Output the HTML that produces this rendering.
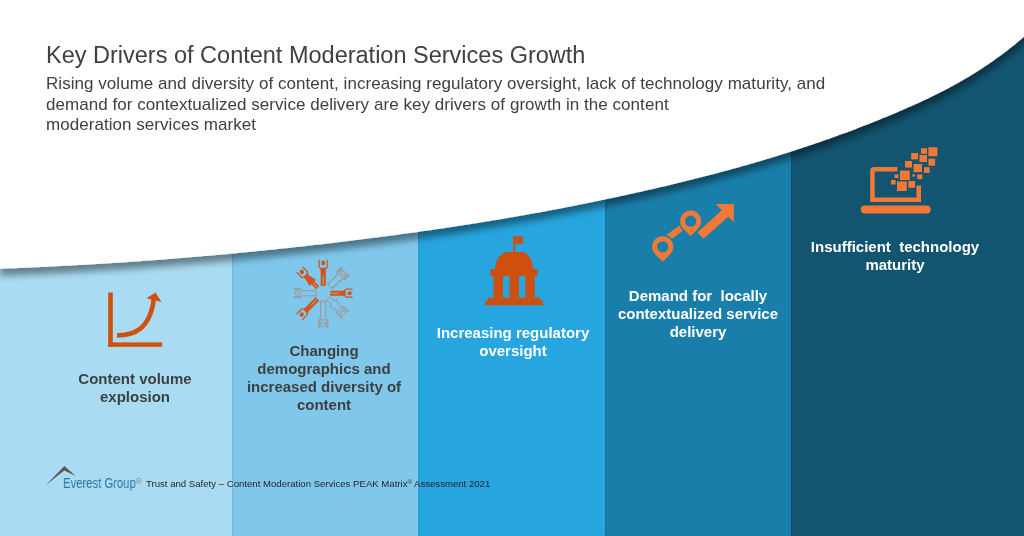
<!DOCTYPE html>
<html><head><meta charset="utf-8">
<style>
*{margin:0;padding:0;box-sizing:border-box}
html,body{width:1024px;height:536px;overflow:hidden;background:#fff}
body{position:relative;font-family:"Liberation Sans",sans-serif}
.col{position:absolute;top:0;height:536px}
.sh{box-shadow:inset 1.2px 0 1px rgba(0,0,0,0.07)}
.t{position:absolute;white-space:nowrap;will-change:transform}
.title{left:46px;top:42px;font-size:23.5px;color:#404040}
.sub{left:45.5px;top:74px;font-size:17px;line-height:20.6px;color:#404040;letter-spacing:0.045px}
.lbl{position:absolute;will-change:transform;font-weight:bold;font-size:15px;line-height:18px;text-align:center;white-space:nowrap}
.dark{color:#3f3f3f}
.wh{color:#fff}
svg{position:absolute;left:0;top:0}
</style></head><body>
<div class="col" style="left:0;width:232px;background:#A9DBF2"></div>
<div class="col sh" style="left:232px;width:186px;background:#7FC7EB"></div>
<div class="col sh" style="left:418px;width:187px;background:#27A5DE"></div>
<div class="col sh" style="left:605px;width:186px;background:#1A7EAB"></div>
<div class="col sh" style="left:791px;width:233px;background:#135470"></div>
<svg width="1024" height="536" viewBox="0 0 1024 536">
<defs><filter id="sh" x="-5%" y="-5%" width="110%" height="120%"><feGaussianBlur in="SourceAlpha" stdDeviation="3.5"/><feOffset dy="6.5" result="b"/><feComponentTransfer><feFuncA type="linear" slope="0.42"/></feComponentTransfer><feMerge><feMergeNode/><feMergeNode in="SourceGraphic"/></feMerge></filter></defs>
<path filter="url(#sh)" fill="#fff" d="M0,-10 L0,268.75 L2,268.68 L4,268.60 L6,268.52 L8,268.45 L10,268.37 L12,268.29 L14,268.21 L16,268.13 L18,268.04 L20,267.96 L22,267.88 L24,267.79 L26,267.70 L28,267.62 L30,267.53 L32,267.44 L34,267.35 L36,267.26 L38,267.17 L40,267.07 L42,266.98 L44,266.88 L46,266.79 L48,266.69 L50,266.59 L52,266.49 L54,266.39 L56,266.29 L58,266.19 L60,266.09 L62,265.98 L64,265.88 L66,265.77 L68,265.66 L70,265.56 L72,265.45 L74,265.34 L76,265.23 L78,265.12 L80,265.00 L82,264.89 L84,264.77 L86,264.66 L88,264.54 L90,264.42 L92,264.30 L94,264.18 L96,264.06 L98,263.94 L100,263.82 L102,263.70 L104,263.57 L106,263.45 L108,263.32 L110,263.19 L112,263.06 L114,262.93 L116,262.80 L118,262.67 L120,262.54 L122,262.41 L124,262.27 L126,262.14 L128,262.00 L130,261.86 L132,261.72 L134,261.59 L136,261.44 L138,261.30 L140,261.16 L142,261.02 L144,260.87 L146,260.73 L148,260.58 L150,260.44 L152,260.29 L154,260.14 L156,259.99 L158,259.84 L160,259.69 L162,259.53 L164,259.38 L166,259.22 L168,259.07 L170,258.91 L172,258.75 L174,258.60 L176,258.44 L178,258.27 L180,258.11 L182,257.95 L184,257.79 L186,257.62 L188,257.46 L190,257.29 L192,257.12 L194,256.95 L196,256.78 L198,256.61 L200,256.44 L202,256.27 L204,256.10 L206,255.92 L208,255.75 L210,255.57 L212,255.39 L214,255.22 L216,255.04 L218,254.86 L220,254.68 L222,254.49 L224,254.31 L226,254.13 L228,253.94 L230,253.76 L232,253.57 L234,253.38 L236,253.19 L238,253.00 L240,252.81 L242,252.62 L244,252.43 L246,252.23 L248,252.04 L250,251.84 L252,251.65 L254,251.45 L256,251.25 L258,251.05 L260,250.85 L262,250.65 L264,250.45 L266,250.24 L268,250.04 L270,249.83 L272,249.63 L274,249.42 L276,249.21 L278,249.00 L280,248.79 L282,248.58 L284,248.37 L286,248.16 L288,247.94 L290,247.73 L292,247.51 L294,247.29 L296,247.08 L298,246.86 L300,246.64 L302,246.42 L304,246.19 L306,245.97 L308,245.75 L310,245.52 L312,245.30 L314,245.07 L316,244.84 L318,244.61 L320,244.38 L322,244.15 L324,243.92 L326,243.69 L328,243.45 L330,243.22 L332,242.98 L334,242.75 L336,242.51 L338,242.27 L340,242.03 L342,241.79 L344,241.55 L346,241.30 L348,241.06 L350,240.82 L352,240.57 L354,240.32 L356,240.08 L358,239.83 L360,239.58 L362,239.33 L364,239.07 L366,238.82 L368,238.57 L370,238.31 L372,238.06 L374,237.80 L376,237.54 L378,237.28 L380,237.02 L382,236.76 L384,236.50 L386,236.24 L388,235.97 L390,235.71 L392,235.44 L394,235.17 L396,234.91 L398,234.64 L400,234.37 L402,234.10 L404,233.82 L406,233.55 L408,233.27 L410,233.00 L412,232.72 L414,232.44 L416,232.16 L418,231.88 L420,231.60 L422,231.32 L424,231.04 L426,230.75 L428,230.46 L430,230.18 L432,229.89 L434,229.60 L436,229.31 L438,229.02 L440,228.72 L442,228.43 L444,228.13 L446,227.83 L448,227.53 L450,227.23 L452,226.93 L454,226.63 L456,226.33 L458,226.02 L460,225.71 L462,225.41 L464,225.10 L466,224.79 L468,224.48 L470,224.16 L472,223.85 L474,223.53 L476,223.21 L478,222.89 L480,222.57 L482,222.25 L484,221.93 L486,221.60 L488,221.28 L490,220.95 L492,220.62 L494,220.29 L496,219.96 L498,219.63 L500,219.29 L502,218.96 L504,218.62 L506,218.28 L508,217.94 L510,217.59 L512,217.25 L514,216.90 L516,216.56 L518,216.21 L520,215.86 L522,215.51 L524,215.15 L526,214.80 L528,214.44 L530,214.08 L532,213.72 L534,213.36 L536,213.00 L538,212.63 L540,212.27 L542,211.90 L544,211.53 L546,211.16 L548,210.79 L550,210.41 L552,210.04 L554,209.66 L556,209.28 L558,208.90 L560,208.52 L562,208.14 L564,207.75 L566,207.36 L568,206.97 L570,206.58 L572,206.19 L574,205.80 L576,205.40 L578,205.01 L580,204.61 L582,204.21 L584,203.81 L586,203.41 L588,203.00 L590,202.59 L592,202.19 L594,201.78 L596,201.37 L598,200.95 L600,200.54 L602,200.12 L604,199.70 L606,199.28 L608,198.86 L610,198.44 L612,198.02 L614,197.59 L616,197.16 L618,196.73 L620,196.30 L622,195.87 L624,195.44 L626,195.00 L628,194.56 L630,194.12 L632,193.68 L634,193.24 L636,192.79 L638,192.35 L640,191.90 L642,191.45 L644,191.00 L646,190.55 L648,190.09 L650,189.64 L652,189.18 L654,188.72 L656,188.26 L658,187.79 L660,187.33 L662,186.86 L664,186.39 L666,185.92 L668,185.44 L670,184.97 L672,184.49 L674,184.01 L676,183.53 L678,183.05 L680,182.56 L682,182.07 L684,181.58 L686,181.09 L688,180.60 L690,180.10 L692,179.60 L694,179.10 L696,178.60 L698,178.09 L700,177.58 L702,177.07 L704,176.56 L706,176.04 L708,175.53 L710,175.01 L712,174.48 L714,173.96 L716,173.43 L718,172.90 L720,172.37 L722,171.83 L724,171.29 L726,170.75 L728,170.21 L730,169.66 L732,169.12 L734,168.56 L736,168.01 L738,167.45 L740,166.89 L742,166.33 L744,165.77 L746,165.20 L748,164.63 L750,164.05 L752,163.47 L754,162.89 L756,162.31 L758,161.73 L760,161.14 L762,160.54 L764,159.95 L766,159.35 L768,158.75 L770,158.15 L772,157.54 L774,156.93 L776,156.31 L778,155.70 L780,155.08 L782,154.45 L784,153.82 L786,153.19 L788,152.56 L790,151.92 L792,151.28 L794,150.64 L796,149.99 L798,149.34 L800,148.69 L802,148.03 L804,147.37 L806,146.70 L808,146.04 L810,145.36 L812,144.69 L814,144.01 L816,143.33 L818,142.64 L820,141.95 L822,141.26 L824,140.56 L826,139.86 L828,139.15 L830,138.45 L832,137.73 L834,137.02 L836,136.30 L838,135.57 L840,134.85 L842,134.11 L844,133.38 L846,132.64 L848,131.89 L850,131.15 L852,130.40 L854,129.64 L856,128.88 L858,128.12 L860,127.35 L862,126.58 L864,125.80 L866,125.02 L868,124.24 L870,123.45 L872,122.65 L874,121.86 L876,121.06 L878,120.25 L880,119.44 L882,118.62 L884,117.81 L886,116.98 L888,116.15 L890,115.32 L892,114.49 L894,113.65 L896,112.80 L898,111.95 L900,111.10 L902,110.24 L904,109.37 L906,108.50 L908,107.62 L910,106.74 L912,105.85 L914,104.95 L916,104.05 L918,103.14 L920,102.22 L922,101.29 L924,100.36 L926,99.42 L928,98.46 L930,97.50 L932,96.53 L934,95.55 L936,94.56 L938,93.56 L940,92.55 L942,91.53 L944,90.50 L946,89.45 L948,88.40 L950,87.33 L952,86.25 L954,85.16 L956,84.05 L958,82.93 L960,81.80 L962,80.65 L964,79.49 L966,78.32 L968,77.13 L970,75.93 L972,74.71 L974,73.48 L976,72.23 L978,70.96 L980,69.68 L982,68.38 L984,67.07 L986,65.74 L988,64.39 L990,63.02 L992,61.64 L994,60.23 L996,58.81 L998,57.37 L1000,55.91 L1002,54.43 L1004,52.93 L1006,51.41 L1008,49.88 L1010,48.32 L1012,46.74 L1014,45.13 L1016,43.51 L1018,41.87 L1020,40.20 L1022,38.51 L1024,36.80 L1044,6.80 L1044,-10 Z"/>
</svg>

<svg width="1024" height="536" viewBox="0 0 1024 536">
<defs>
<g id="man">
<path d="M-2.55,0 L-2.55,-12.8 Q-2.55,-14.6 -4.6,-15.6 L-4.6,-21.8 Q-4.6,-22.4 -4,-22.4 Q-3.4,-22.4 -3.4,-21.8 L-3.4,-16.4 Q-3.4,-15.4 -2.6,-15.4 L2.6,-15.4 Q3.4,-15.4 3.4,-16.4 L3.4,-21.8 Q3.4,-22.4 4,-22.4 Q4.6,-22.4 4.6,-21.8 L4.6,-15.6 Q2.55,-14.6 2.55,-12.8 L2.55,0 Z"/>
<circle cx="0" cy="-19.4" r="2"/>
</g>
<g id="woman">
<path d="M-2.1,0 L-2.1,-6 L-4.3,-6 L-2.6,-12.8 Q-2.55,-14.6 -4.6,-15.6 L-4.6,-21.8 Q-4.6,-22.4 -4,-22.4 Q-3.4,-22.4 -3.4,-21.8 L-3.4,-16.4 Q-3.4,-15.4 -2.6,-15.4 L2.6,-15.4 Q3.4,-15.4 3.4,-16.4 L3.4,-21.8 Q3.4,-22.4 4,-22.4 Q4.6,-22.4 4.6,-21.8 L4.6,-15.6 Q2.55,-14.6 2.6,-12.8 L4.3,-6 L2.1,-6 L2.1,0 Z"/>
<circle cx="0" cy="-19.4" r="2.1"/>
</g>
</defs>
<!-- col1 chart -->
<g fill="#D0500C">
<rect x="108.2" y="292.5" width="4.6" height="54.3"/>
<rect x="108.2" y="342.4" width="54" height="4.4"/>
<path d="M146.5,298.3 L155.6,292.5 L161.5,302 Z"/>
</g>
<path d="M117,335.4 C133,335.4 150,330 153.8,299" fill="none" stroke="#D0500C" stroke-width="4.6"/>
<!-- col2 people -->
<g transform="translate(323.2,293.2)">
<use href="#man" fill="#D4541A" transform="rotate(0) translate(0,-7.30) scale(1.00,1.183)"/>
<path d="M0,-0.2 L0,-8.4" stroke="#86C9EA" stroke-width="0.7" transform="rotate(0) translate(0,-7.30) scale(1.00,1.183)"/>
<use href="#man" fill="none" stroke="#A88C82" stroke-width="0.8" transform="rotate(45) translate(0,-9.50) scale(1.20,0.973)"/>
<use href="#man" fill="#D4541A" transform="rotate(90) translate(0,-7.00) scale(1.00,1.004)"/>
<path d="M0,-0.2 L0,-8.4" stroke="#86C9EA" stroke-width="0.7" transform="rotate(90) translate(0,-7.00) scale(1.00,1.004)"/>
<use href="#woman" fill="none" stroke="#A88C82" stroke-width="0.8" transform="rotate(135) translate(0,-7.40) scale(1.10,1.054)"/>
<use href="#man" fill="none" stroke="#A88C82" stroke-width="0.8" transform="rotate(180) translate(0,-8.00) scale(1.00,1.201)"/>
<use href="#man" fill="#D4541A" transform="rotate(225) translate(0,-8.00) scale(1.00,1.152)"/>
<path d="M0,-0.2 L0,-8.4" stroke="#86C9EA" stroke-width="0.7" transform="rotate(225) translate(0,-8.00) scale(1.00,1.152)"/>
<use href="#man" fill="none" stroke="#A88C82" stroke-width="0.8" transform="rotate(270) translate(0,-7.00) scale(1.00,0.987)"/>
<use href="#woman" fill="#D4541A" transform="rotate(315) translate(0,-7.70) scale(1.00,1.156)"/>
<path d="M0,-0.2 L0,-5.6" stroke="#86C9EA" stroke-width="0.7" transform="rotate(315) translate(0,-7.70) scale(1.00,1.156)"/>
</g>
<!-- col3 building -->
<g fill="#CF4F0E">
<rect x="513.3" y="236.4" width="2" height="16"/>
<rect x="513.3" y="236.4" width="9.8" height="7.2"/>
<path d="M495,270 C495,258 503,252 507,252 L521.7,252 C526,252 533,258 533,270 Z"/>
<rect x="490.5" y="269" width="47" height="7"/>
<path d="M493.5,276 L534.7,276 L534.7,297.8 L525.4,297.8 L525.4,276 L519,276 L519,297.8 L509.5,297.8 L509.5,276 L503,276 L503,297.8 L493.5,297.8 Z"/>
<rect x="488" y="297.6" width="52.2" height="3.2"/>
<rect x="485" y="300.6" width="58" height="4.7"/>
</g>
<!-- col4 pins -->
<g>
<path d="M662,242 L691,221" stroke="#F27935" stroke-width="6.3"/>
<path d="M700.5,235.5 L726.8,211.8" stroke="#F27935" stroke-width="9"/>
<path fill="#F27935" d="M715.6,204.1 L733.8,204.1 L733.8,222.3 Z"/>
<path fill-rule="evenodd" fill="#1A7EAB" d="M662.70,264.05 L654.07,255.43 A12.20,12.20 0 1 1 671.33,255.43 Z"/>
<path fill-rule="evenodd" fill="#1A7EAB" d="M690.70,238.45 L682.07,229.83 A12.20,12.20 0 1 1 699.33,229.83 Z"/>
<path fill-rule="evenodd" fill="#F27935" d="M662.70,261.79 L655.20,254.30 A10.60,10.60 0 1 1 670.20,254.30 Z M662.70,241.20 A5.60,5.60 0 1 0 662.70,252.40 A5.60,5.60 0 1 0 662.70,241.20 Z"/>
<path fill-rule="evenodd" fill="#F27935" d="M690.70,236.19 L683.20,228.70 A10.60,10.60 0 1 1 698.20,228.70 Z M690.70,215.60 A5.60,5.60 0 1 0 690.70,226.80 A5.60,5.60 0 1 0 690.70,215.60 Z"/>
</g>
<!-- col5 laptop -->
<g fill="#F27935">
<path d="M870.2,202 L870.2,171 Q870.2,166.9 874.5,166.9 L897.5,166.9 L897.5,171.4 L874.7,171.4 L874.7,197.5 L916.5,197.5 L916.5,185.6 L921,185.6 L921,202 Z"/>
<rect x="860.8" y="205.6" width="69.9" height="8" rx="4"/>
<rect x="928.4" y="147.2" width="9" height="9"/>
<rect x="921" y="148.2" width="6" height="5.6"/>
<rect x="911.2" y="153.1" width="6.8" height="6.3"/>
<rect x="919.5" y="155" width="7.5" height="7"/>
<rect x="928.4" y="158.7" width="6.7" height="7"/>
<rect x="905" y="161" width="7" height="6.6"/>
<rect x="913.5" y="164" width="8.5" height="8.1"/>
<rect x="924" y="167.2" width="5.6" height="5.7"/>
<rect x="900" y="170.6" width="9.7" height="9.4"/>
<rect x="894.5" y="174.4" width="4" height="3.6"/>
<rect x="912.4" y="174.4" width="2.6" height="2.2"/>
<rect x="917.2" y="174.4" width="5.2" height="4.7"/>
<rect x="891" y="180" width="4.6" height="4.5"/>
<rect x="897" y="181.5" width="9.8" height="9.5"/>
<rect x="908.3" y="181" width="6.7" height="6.8"/>
</g>
<!-- logo -->
<path d="M46,485 L64.3,466.1 L75.8,475.9 L64.3,470.4 Z" fill="#5A5A5A"/>
<circle cx="138.6" cy="480.8" r="2.6" fill="none" stroke="#8A8A8A" stroke-width="0.7"/>
<circle cx="138.6" cy="480.8" r="0.9" fill="#8A8A8A"/>
</svg>

<div class="t title">Key Drivers of Content Moderation Services Growth</div>
<div class="t sub">Rising volume and diversity of content, increasing regulatory oversight, lack of technology maturity, and<br>demand for contextualized service delivery are key drivers of growth in the content<br>moderation services market</div>

<div class="lbl dark" style="left:35px;width:200px;top:370px">Content volume<br>explosion</div>
<div class="lbl dark" style="left:224px;width:200px;top:342px">Changing<br>demographics and<br>increased diversity of<br>content</div>
<div class="lbl wh" style="left:413px;width:200px;top:324px">Increasing regulatory<br>oversight</div>
<div class="lbl wh" style="left:598px;width:200px;top:287px">Demand for&nbsp; locally<br>contextualized service<br>delivery</div>
<div class="lbl wh" style="left:795px;width:200px;top:238px">Insufficient&nbsp; technology<br>maturity</div>

<div class="t" style="left:63px;top:474.7px;font-size:14.5px;color:#2A76A3;transform:scaleX(0.778);transform-origin:0 0">Everest Group</div>
<div class="t" style="left:146px;top:478px;font-size:9.6px;color:#262626">Trust and Safety – Content Moderation Services PEAK Matrix<sup style="font-size:6px;vertical-align:3px">®</sup> Assessment 2021</div>
</body></html>
